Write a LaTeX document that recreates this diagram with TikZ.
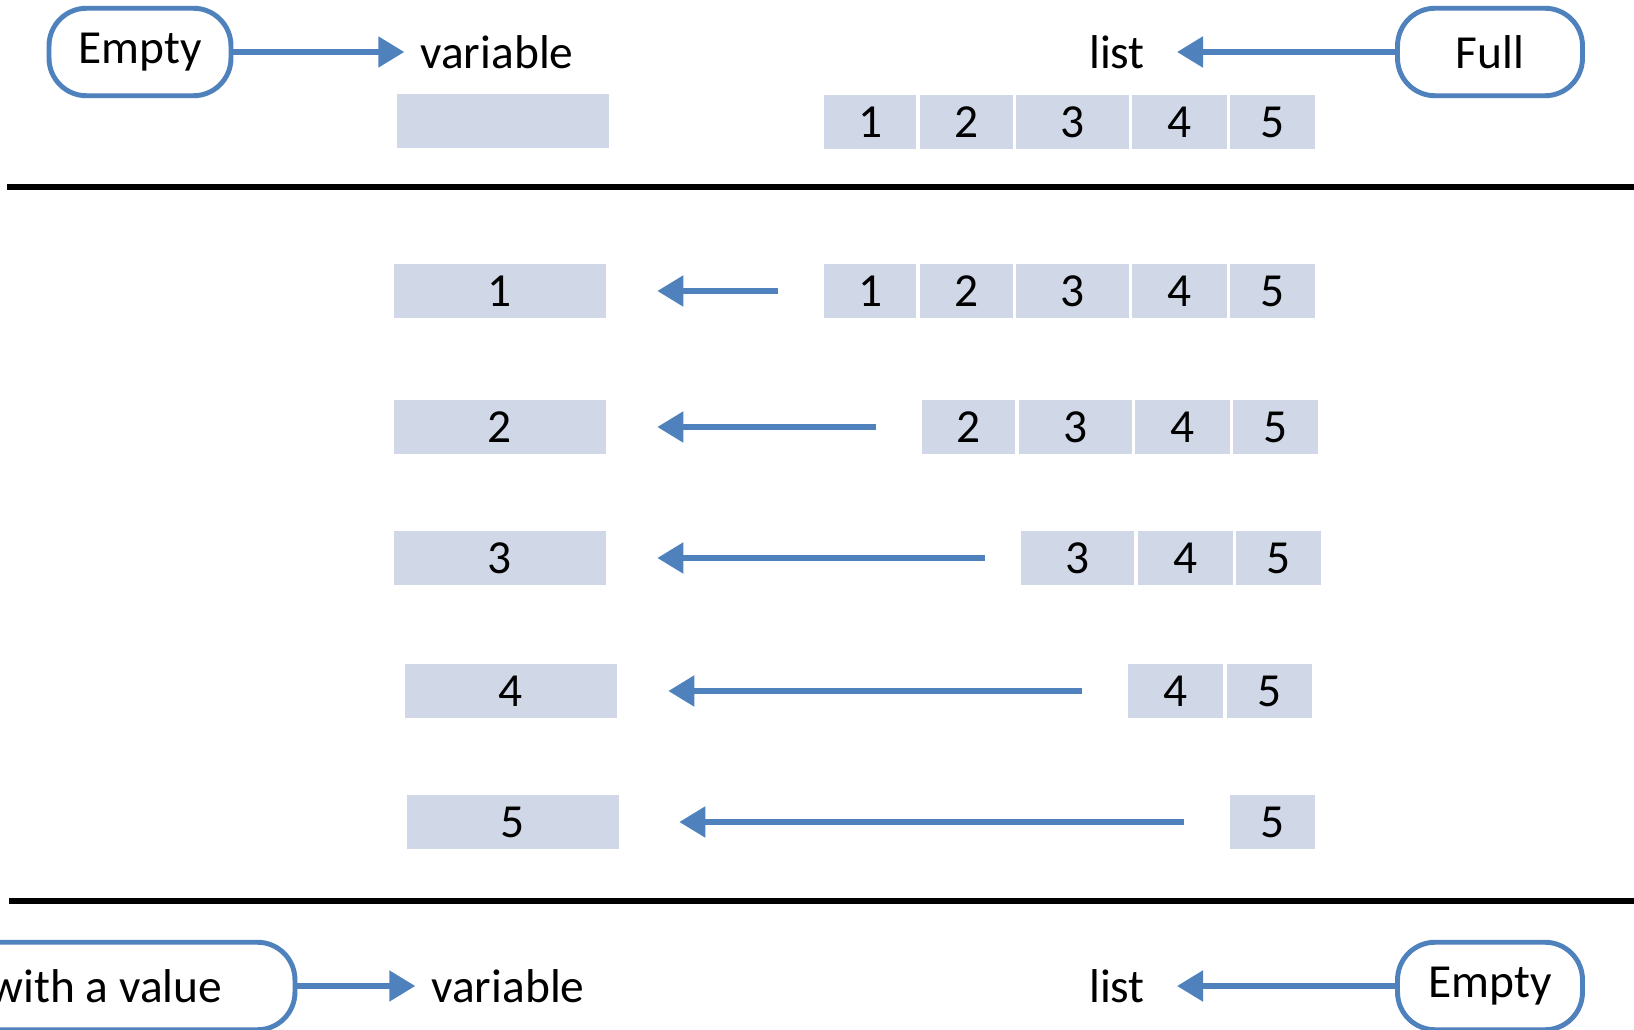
\documentclass[tikz,border=0pt]{standalone}
\usepackage{fontspec}
\setmainfont{Carlito}
\usepackage{xcolor}
\usetikzlibrary{arrows.meta,positioning}
\definecolor{linkblue}{RGB}{79,129,189}
\definecolor{cellfill}{RGB}{208,216,232}
\newcommand{\diagfont}{\fontsize{27}{32}\selectfont}
\tikzset{
  statebox/.style={
    rectangle, rounded corners=0.75cm, draw=linkblue, line width=2.8pt,
    fill=white, minimum width=#1, minimum height=1.75cm,
    inner sep=0pt, font=\diagfont
  },
  cell/.style={
    rectangle, fill=cellfill, minimum width=#1, minimum height=1.08cm,
    inner sep=0pt, font=\diagfont
  },
  varbox/.style={cell=4.24cm},
  lbl/.style={font=\diagfont},
  arr/.style={-{Triangle[length=0.52cm,width=0.6cm]}, line width=3pt, linkblue},
  rowarr/.style={arr, shorten <=0.92cm, shorten >=1.02cm},
  rule/.style={line width=3.4pt, black}
}

\begin{document}
\begin{tikzpicture}[x=0.02cm, y=-0.02cm]
\clip (0,0) rectangle (1634,1030);

% Start state
\node[statebox=3.64cm] (empty0) at (140,52) {Empty};
\node[lbl] (var0lbl) at (497,52) {variable};
\node[statebox=3.7cm] (full0) at (1490,52) {Full};
\node[lbl] (list0lbl) at (1117,52) {list};

\node[varbox] (var0) at (503,121) {};
\node[cell=1.84cm, anchor=west] (r0n1) at (824,122) {1};
\node[cell=1.86cm, right=0.05cm of r0n1] (r0n2) {2};
\node[cell=2.26cm, right=0.05cm of r0n2] (r0n3) {3};
\node[cell=1.90cm, right=0.05cm of r0n3] (r0n4) {4};
\node[cell=1.70cm, right=0.05cm of r0n4] (r0n5) {5};

\draw[rule] (7,187) -- (1634,187);

% Popping one value per step
\node[varbox] (var1) at (500,291) {1};
\node[cell=1.84cm, anchor=west] (r1n1) at (824,291) {1};
\node[cell=1.86cm, right=0.05cm of r1n1] (r1n2) {2};
\node[cell=2.26cm, right=0.05cm of r1n2] (r1n3) {3};
\node[cell=1.90cm, right=0.05cm of r1n3] (r1n4) {4};
\node[cell=1.70cm, right=0.05cm of r1n4] (r1n5) {5};

\node[varbox] (var2) at (500,427) {2};
\node[cell=1.86cm, anchor=west] (r2n2) at (922,427) {2};
\node[cell=2.26cm, right=0.05cm of r2n2] (r2n3) {3};
\node[cell=1.90cm, right=0.05cm of r2n3] (r2n4) {4};
\node[cell=1.70cm, right=0.05cm of r2n4] (r2n5) {5};

\node[varbox] (var3) at (500,558) {3};
\node[cell=2.26cm, anchor=west] (r3n3) at (1021,558) {3};
\node[cell=1.90cm, right=0.05cm of r3n3] (r3n4) {4};
\node[cell=1.70cm, right=0.05cm of r3n4] (r3n5) {5};

\node[varbox] (var4) at (511,691) {4};
\node[cell=1.90cm, anchor=west] (r4n4) at (1128,691) {4};
\node[cell=1.70cm, right=0.05cm of r4n4] (r4n5) {5};

\node[varbox] (var5) at (513,822) {5};
\node[cell=1.70cm, anchor=west] (r5n5) at (1230,822) {5};

\draw[rule] (9,901) -- (1634,901);

% End state
\node[statebox=7.56cm] (valued) at (106,986) {with a value};
\node[lbl] (var6lbl) at (508,986) {variable};
\node[statebox=3.7cm] (empty6) at (1490,986) {Empty};
\node[lbl] (list6lbl) at (1117,986) {list};

% ── Arrows ──────────────────────────────────────────────
\draw[arr, shorten >=0.2cm] (empty0.east) -- (var0lbl.west);
\draw[arr, shorten >=0.52cm] (full0.west) -- (list0lbl.east);

\draw[rowarr] (r1n1.west) -- (var1.east);
\draw[rowarr] (r2n2.west) -- (var2.east);
\draw[rowarr, shorten <=0.72cm] (r3n3.west) -- (var3.east);
\draw[rowarr] (r4n4.west) -- (var4.east);
\draw[rowarr, shorten >=1.2cm] (r5n5.west) -- (var5.east);

\draw[arr, shorten >=0.2cm] (valued.east) -- (var6lbl.west);
\draw[arr, shorten >=0.52cm] (empty6.west) -- (list6lbl.east);

\end{tikzpicture}
\end{document}
